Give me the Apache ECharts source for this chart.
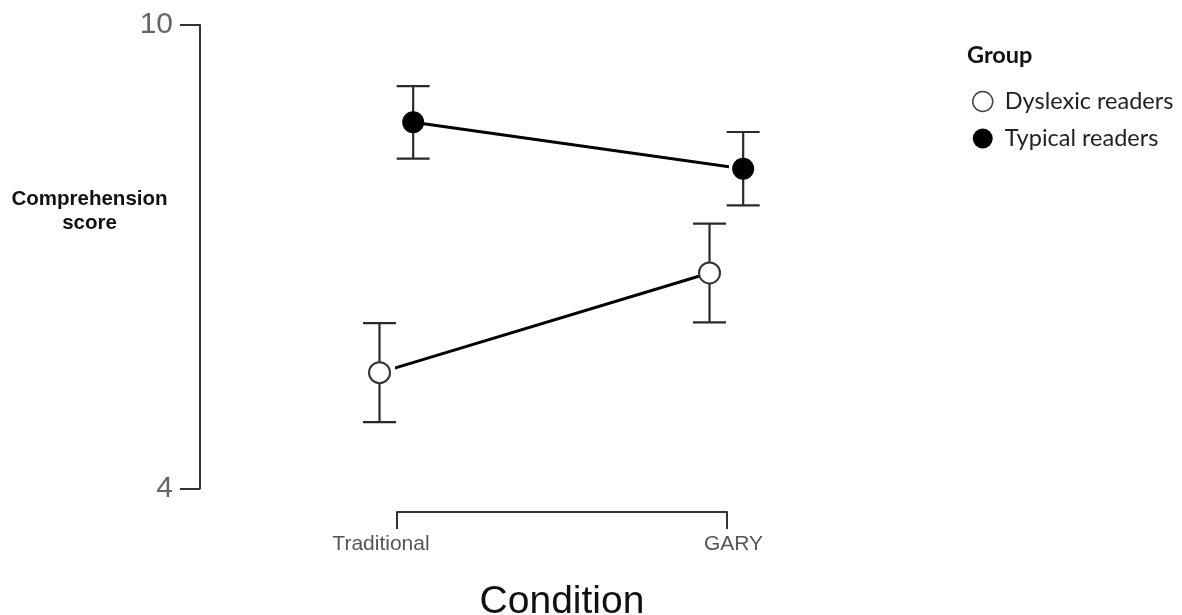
<!DOCTYPE html>
<html>
<head>
<meta charset="utf-8">
<script src="https://cdn.jsdelivr.net/npm/echarts@6/dist/echarts.min.js"></script>
<style>
  html, body { margin: 0; padding: 0; background: #fff; }
  #chart { width: 1182px; height: 615px; }
</style>
</head>
<body>
<div id="chart"></div>
<script>
var conditions = ['Traditional', 'GARY'];
var groups = ['Dyslexic readers', 'Typical readers'];
var dyslexicMean = [5.50, 6.79];
var dyslexicErr = [0.64, 0.64];
var typicalMean = [8.74, 8.14];
var typicalErr = [0.47, 0.475];
var yTicks = [4, 10];

// horizontal dodge of the two groups around each condition
var dodge = [-0.053, 0.049];

function points(mean, off) {
  return mean.map(function (m, i) { return [i + 1 + off, m]; });
}
function bars(mean, err, off) {
  return mean.map(function (m, i) { return [i + 1 + off, m - err[i], m + err[i]]; });
}

function renderErr(params, api) {
  var x = api.value(0);
  var top = api.coord([x, api.value(2)]);
  var bot = api.coord([x, api.value(1)]);
  var hw = 16.5;
  var st = { stroke: '#2a2a2a', lineWidth: 2.2 };
  return {
    type: 'group',
    children: [
      { type: 'line', shape: { x1: top[0], y1: top[1], x2: bot[0], y2: bot[1] }, style: st },
      { type: 'line', shape: { x1: top[0] - hw, y1: top[1], x2: top[0] + hw, y2: top[1] }, style: st },
      { type: 'line', shape: { x1: bot[0] - hw, y1: bot[1], x2: bot[0] + hw, y2: bot[1] }, style: st }
    ]
  };
}

var chart = echarts.init(document.getElementById('chart'));

var option = {
  animation: false,
  backgroundColor: '#fff',
  grid: { left: 397, right: 455, top: 25, bottom: 126.5, outerBoundsMode: 'none', containLabel: false },
  xAxis: {
    type: 'value',
    min: 1,
    max: 2,
    interval: 1,
    offset: 23.5,
    name: 'Condition',
    nameLocation: 'middle',
    nameGap: 71,
    nameTextStyle: { fontFamily: 'Liberation Sans', fontSize: 39, color: '#111' },
    axisLine: { lineStyle: { color: '#333', width: 2 } },
    axisTick: { length: 17, lineStyle: { color: '#333', width: 2 } },
    splitLine: { show: false },
    axisLabel: {
      margin: 22,
      showMinLabel: true,
      showMaxLabel: true,
      formatter: function (v) {
        var i = Math.round(v) - 1;
        return '{c' + i + '|' + conditions[i] + '}';
      },
      rich: {
        c0: { fontFamily: 'Liberation Sans', fontSize: 21, color: '#555', padding: [0, 32, 0, 0] },
        c1: { fontFamily: 'Liberation Sans', fontSize: 21, color: '#555', padding: [0, 0, 0, 13] }
      }
    }
  },
  yAxis: {
    type: 'value',
    min: yTicks[0],
    max: yTicks[1],
    interval: yTicks[1] - yTicks[0],
    offset: 197,
    axisLine: { show: true, lineStyle: { color: '#333', width: 2 } },
    axisTick: { show: true, length: 20, lineStyle: { color: '#333', width: 2 } },
    splitLine: { show: false },
    axisLabel: { margin: 27, fontFamily: 'Liberation Sans', fontSize: 30, color: '#666' }
  },
  legend: {
    orient: 'vertical',
    left: 972,
    top: 89.5,
    padding: 0,
    itemWidth: 20,
    itemHeight: 20,
    itemGap: 13,
    textStyle: { fontFamily: 'Lato', fontSize: 23.5, color: '#222', padding: [0, 0, 0, 7] },
    data: [
      { name: groups[0], icon: 'circle', itemStyle: { color: '#fff', borderColor: '#444', borderWidth: 1.5 } },
      { name: groups[1], icon: 'circle', itemStyle: { color: '#000', borderColor: '#000', borderWidth: 0 } }
    ]
  },
  graphic: [
    {
      type: 'text',
      left: 967,
      top: 43,
      style: { text: 'Group', font: 'bold 23.5px Lato', fill: '#111' }
    },
    {
      type: 'text',
      x: 89.5,
      y: 211.5,
      style: {
        text: 'Comprehension\nscore',
        fontFamily: 'Liberation Sans',
        fontWeight: 'bold',
        fontSize: 20.5,
        lineHeight: 24,
        align: 'center',
        verticalAlign: 'middle',
        fill: '#111'
      }
    }
  ],
  series: [
    {
      name: 'dys-err',
      type: 'custom',
      z: 1,
      clip: false,
      renderItem: renderErr,
      encode: { x: 0, y: [1, 2] },
      data: bars(dyslexicMean, dyslexicErr, dodge[0])
    },
    {
      name: 'typ-err',
      type: 'custom',
      z: 1,
      clip: false,
      renderItem: renderErr,
      encode: { x: 0, y: [1, 2] },
      data: bars(typicalMean, typicalErr, dodge[1])
    },
    {
      name: groups[0],
      type: 'line',
      z: 3,
      clip: false,
      symbol: 'circle',
      symbolSize: 21,
      itemStyle: { color: '#fff', borderColor: '#333', borderWidth: 2 },
      lineStyle: { color: '#000', width: 3 },
      data: points(dyslexicMean, dodge[0])
    },
    {
      name: groups[1],
      type: 'line',
      z: 3,
      clip: false,
      symbol: 'circle',
      symbolSize: 22,
      itemStyle: { color: '#000', borderColor: '#000', borderWidth: 0 },
      lineStyle: { color: '#000', width: 3 },
      data: points(typicalMean, dodge[1])
    }
  ]
};

chart.setOption(option);
</script>
</body>
</html>
